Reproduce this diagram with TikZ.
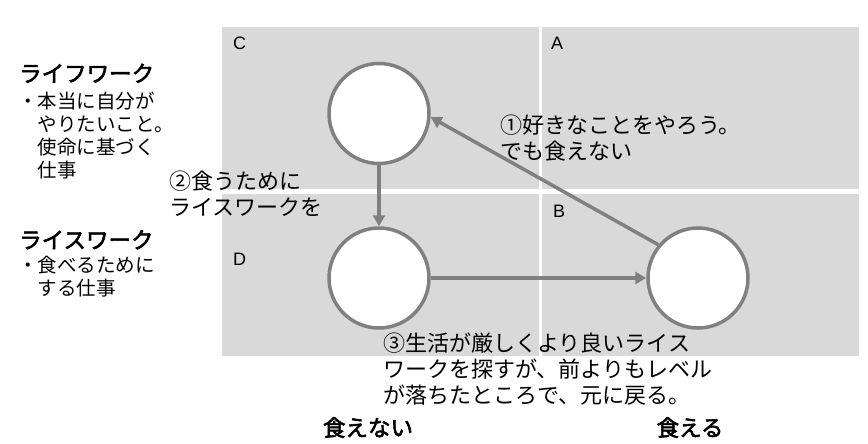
\documentclass[tikz,border=0pt]{standalone}
\usepackage{fontspec}
\setmainfont{Noto Sans CJK JP}
\newfontfamily\jpbold{Noto Sans CJK JP}[FakeBold=2.5]
\newfontfamily\latinsans{Liberation Sans}
\usetikzlibrary{arrows.meta}
\definecolor{quad}{HTML}{D9D9D9}
\definecolor{edge}{HTML}{808080}
\tikzset{
  state/.style={circle, draw=edge, line width=3.5pt, fill=white, minimum size=100pt, inner sep=0},
  flow/.style={draw=edge, line width=3.5pt, -{Triangle[length=11pt,width=12pt]}},
  label/.style={inner sep=0, anchor=north west, align=left, font=\fontsize{22}{26}\selectfont},
  side/.style={inner sep=0, anchor=north west, align=left, font=\fontsize{19.5}{23}\selectfont},
  head/.style={inner sep=0, anchor=north west, font=\jpbold\fontsize{22.5}{24}\selectfont},
  corner/.style={inner sep=0, anchor=base west, font=\latinsans\fontsize{18}{20}\selectfont},
}
\begin{document}
\begin{tikzpicture}[x=1pt,y=-1pt]
\useasboundingbox (0,0) rectangle (868,444);
% quadrants
\fill[quad] (222,27) rectangle (539,188.5);
\fill[quad] (541.5,27) rectangle (859,188.5);
\fill[quad] (222,193.5) rectangle (539,356);
\fill[quad] (541.5,193.5) rectangle (859,356);
% corner letters
\node[corner] (lc) at (233,50) {C};
\node[corner] (la) at (551,50) {A};
\node[corner] (lb) at (553,217) {B};
\node[corner] (ld) at (233,265) {D};
% circles
\node[state] (C) at (379,113.5) {};
\node[state] (D) at (379,278) {};
\node[state] (B) at (698,278) {};
% arrows
\draw[flow] (C) -- (D);
\draw[flow] (D) -- (B);
\draw[flow] (B.140) -- (C.-4);
% left legend
\node[head] (lw) at (19,63.5) {ライフワーク};
\node[side] (lwt) at (18,91.5) {・本当に自分が\\\hspace*{19.5pt}やりたいこと。\\\hspace*{19.5pt}使命に基づく\\\hspace*{19.5pt}仕事};
\node[head] (rw) at (19,230) {ライスワーク};
\node[side] (rwt) at (18,256) {・食べるために\\\hspace*{19.5pt}する仕事};
% labels
\node[label] (t1) at (500,115) {①好きなことをやろう。\\でも食えない};
\node[label] (t2) at (169,171) {②食うために\\ライスワークを};
\node[label] (t3) at (383,333) {③生活が厳しくより良いライス\\ワークを探すが、前よりもレベル\\が落ちたところで、元に戻る。};
% axis
\node[head, anchor=north] (x1) at (368,417) {食えない};
\node[head, anchor=north] (x2) at (690,417) {食える};
\end{tikzpicture}
\end{document}
